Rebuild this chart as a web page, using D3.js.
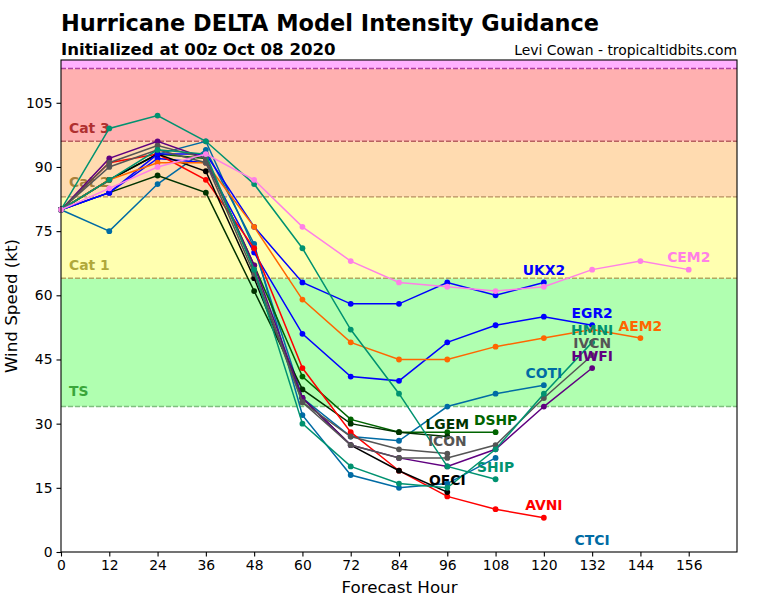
<!DOCTYPE html>
<html>
<head>
<meta charset="utf-8">
<script src="https://cdnjs.cloudflare.com/ajax/libs/d3/7.8.5/d3.min.js"></script>
<style>
  html, body { margin: 0; padding: 0; background: #fff; }
  text { font-family: "DejaVu Sans", sans-serif; }
</style>
</head>
<body>
<main></main>
<script>
// forecast hours, every 12h
const hours = [0, 12, 24, 36, 48, 60, 72, 84, 96, 108, 120, 132, 144, 156];

// intensity (kt)
const CTCI = [80, 75, 86, 94, 72, 32, 18, 15, 16, 22];
const COTI = [80, 87, 93, 96, 71, 36, 27, 26, 34, 37, 39];
const SHIP = [80, 99, 102, 96, 86, 71, 52, 37, 20, 17];
const HMNI = [80, 87, 94, 93, 66, 30, 20, 16, 15, 24, 37, 49];
const DSHP = [80, 87, 93, 92, 67, 41, 31, 28, 28, 28];
const LGEM = [80, 84, 88, 84, 61, 38, 30, 28, 27];
const AVNI = [80, 91, 93, 87, 71, 43, 28, 19, 13, 10, 8];
const OFCI = [80, 87, 93, 89, 64, 36, 25, 19, 14];
const AEM2 = [80, 87, 91, 91, 76, 59, 49, 45, 45, 48, 50, 52, 50];
const UKX2 = [80, 84, 93, 93, 76, 63, 58, 58, 63, 60, 63];
const EGR2 = [80, 84, 92, 91, 70, 51, 41, 40, 49, 53, 55, 53];
const HWFI = [80, 92, 96, 92, 67, 36, 25, 22, 20, 24, 34, 43];
const IVCN = [80, 90, 94, 91, 65, 35, 25, 22, 22, 25, 36, 46];
const ICON = [80, 91, 95, 92, 66, 35, 27, 24, 23];
const CEM2 = [80, 85, 90, 93, 87, 76, 68, 63, 62, 61, 62, 66, 68, 66];

// draw order with colour and where the name sits [hour, kt]
const models = [
  ["CTCI", CTCI, "#006ba4", [132, 0]],
  ["COTI", COTI, "#006ba4", [120, 39]],
  ["DSHP", DSHP, "#006400", [108, 28]],
  ["LGEM", LGEM, "#003300", [96, 27]],
  ["EGR2", EGR2, "#0000ff", [132, 53]],
  ["AVNI", AVNI, "#ff0000", [120, 8]],
  ["OFCI", OFCI, "#000000", [96, 14]],
  ["UKX2", UKX2, "#0000ff", [120, 63]],
  ["AEM2", AEM2, "#ff6600", [144, 50]],
  ["HWFI", HWFI, "#600080", [132, 43]],
  ["IVCN", IVCN, "#555555", [132, 46]],
  ["ICON", ICON, "#555555", [96, 23]],
  ["SHIP", SHIP, "#009270", [108, 17]],
  ["HMNI", HMNI, "#009270", [132, 49]],
  ["CEM2", CEM2, "#ff80e6", [156, 66]]
];

// Saffir-Simpson bands
const bandEdges = [34, 64, 83, 96, 113, 115];
const bandColors = ["#b0ffb0", "#ffffb0", "#ffdbb0", "#ffb0b0", "#ffb0ff"];
const bandNames = ["TS", "Cat 1", "Cat 2", "Cat 3"];
const bandNameKt = [36.4, 65.9, 85.4, 97.9];
const bandNameColors = ["#3aa63a", "#b0a83a", "#a8803a", "#b03030"];
const bandLineColors = ["#7fbf7f", "#b0a860", "#b89060", "#b86060", "#b040a0"];

const xTicks = d3.range(0, 157, 12);
const yTicks = d3.range(0, 106, 15);

const plotLeft = 61, plotRight = 737, plotTop = 60, plotBottom = 552;

const x = d3.scaleLinear().domain([0, 168]).range([plotLeft, plotRight]);
const y = d3.scaleLinear().domain([0, 115]).range([plotBottom, plotTop]);

const svg = d3.select("main")
  .append("svg")
  .attr("width", 768)
  .attr("height", 600)
  .style("display", "block");

// bands
svg.selectAll(".band")
  .data(bandColors)
  .enter().append("rect")
  .attr("class", "band")
  .attr("x", plotLeft)
  .attr("width", plotRight - plotLeft)
  .attr("y", (d, i) => y(bandEdges[i + 1]))
  .attr("height", (d, i) => y(bandEdges[i]) - y(bandEdges[i + 1]))
  .attr("fill", d => d);

svg.selectAll(".bandline")
  .data(bandLineColors)
  .enter().append("line")
  .attr("class", "bandline")
  .attr("x1", plotLeft)
  .attr("x2", plotRight)
  .attr("y1", (d, i) => y(bandEdges[i]))
  .attr("y2", (d, i) => y(bandEdges[i]))
  .attr("stroke", d => d)
  .attr("stroke-width", 1.4)
  .attr("stroke-dasharray", "5,2");

svg.selectAll(".bandname")
  .data(bandNames)
  .enter().append("text")
  .attr("class", "bandname")
  .attr("x", plotLeft + 8)
  .attr("y", (d, i) => y(bandNameKt[i]))
  .attr("font-size", 13.9)
  .attr("font-weight", "bold")
  .attr("fill", (d, i) => bandNameColors[i])
  .text(d => d);

// model tracks
const line = d3.line()
  .x(d => x(d[0]))
  .y(d => y(d[1]));

models.forEach(m => {
  const pts = m[1].map((v, i) => [hours[i], v]);
  const g = svg.append("g").attr("class", "model");
  g.append("path")
    .attr("d", line(pts))
    .attr("fill", "none")
    .attr("stroke", m[2])
    .attr("stroke-width", 1.5);
  g.selectAll("circle")
    .data(pts)
    .enter().append("circle")
    .attr("cx", d => x(d[0]))
    .attr("cy", d => y(d[1]))
    .attr("r", 2.9)
    .attr("fill", m[2]);
});

// model names
svg.selectAll(".name")
  .data(models)
  .enter().append("text")
  .attr("class", "name")
  .attr("x", d => x(d[3][0]))
  .attr("y", d => y(d[3][1]) - 7.5)
  .attr("text-anchor", "middle")
  .attr("font-size", 13.9)
  .attr("font-weight", "bold")
  .attr("fill", d => d[2])
  .text(d => d[0]);

// axes
const xAxis = d3.axisBottom(x).tickValues(xTicks).tickSize(4.5).tickPadding(4);
const yAxis = d3.axisLeft(y).tickValues(yTicks).tickSize(4.5).tickPadding(4);

const gx = svg.append("g").attr("transform", `translate(0,${plotBottom})`).call(xAxis);
const gy = svg.append("g").attr("transform", `translate(${plotLeft},0)`).call(yAxis);
[gx, gy].forEach(g => {
  g.select(".domain").remove();
  g.selectAll("text").attr("font-size", 13.9).attr("fill", "#000")
    .style("font-family", '"DejaVu Sans", sans-serif');
  g.selectAll("line").attr("stroke", "#000").attr("stroke-width", 1.1);
});

svg.append("rect")
  .attr("x", plotLeft)
  .attr("y", plotTop)
  .attr("width", plotRight - plotLeft)
  .attr("height", plotBottom - plotTop)
  .attr("fill", "none")
  .attr("stroke", "#000")
  .attr("stroke-width", 1.1);

// titles
svg.append("text").attr("x", plotLeft).attr("y", 31)
  .attr("font-size", 22.45).attr("font-weight", "bold")
  .text("Hurricane DELTA Model Intensity Guidance");
svg.append("text").attr("x", plotLeft).attr("y", 55)
  .attr("font-size", 16.6).attr("font-weight", "bold")
  .text("Initialized at 00z Oct 08 2020");
svg.append("text").attr("x", plotRight).attr("y", 55)
  .attr("text-anchor", "end")
  .attr("font-size", 13.9)
  .text("Levi Cowan - tropicaltidbits.com");

svg.append("text").attr("x", (plotLeft + plotRight) / 2 + 0.5).attr("y", 593)
  .attr("text-anchor", "middle")
  .attr("font-size", 16.7)
  .text("Forecast Hour");
svg.append("text")
  .attr("transform", `translate(17,${(plotTop + plotBottom) / 2}) rotate(-90)`)
  .attr("text-anchor", "middle")
  .attr("font-size", 16.7)
  .text("Wind Speed (kt)");
</script>
</body>
</html>
